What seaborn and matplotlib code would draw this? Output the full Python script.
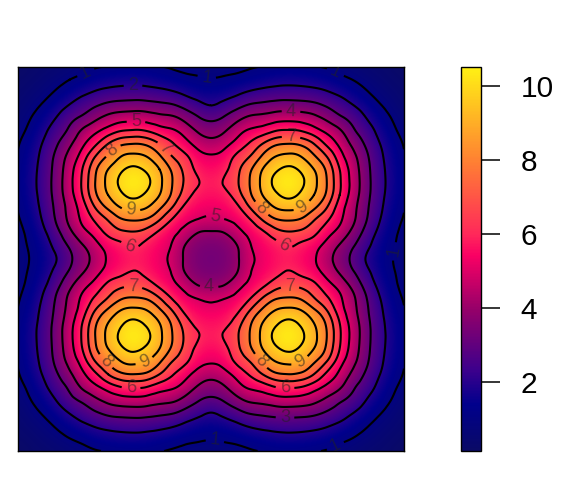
import numpy as np
import matplotlib
matplotlib.use("Agg")
import matplotlib.pyplot as plt
import matplotlib.tri as mtri
from matplotlib.colors import LinearSegmentedColormap
import seaborn as sns

# values, one quarter of the map (top left, edge to centre)
row00 = [.14, .3, .4, .5, .65, .8, .95, 1.05, 1.12, 1.15, 1.12, 1.03, .95, .85, .76, .72]
row01 = [.3, .42, .6, .78, 1.0, 1.2, 1.45, 1.6, 1.68, 1.7, 1.65, 1.5, 1.35, 1.2, 1.1, 1.05]
row02 = [.4, .6, .8, 1.1, 1.45, 1.8, 2.1, 2.3, 2.4, 2.45, 2.4, 2.3, 2.12, 1.82, 1.55, 1.45]
row03 = [.5, .78, 1.1, 1.55, 2.05, 2.5, 2.9, 3.25, 3.4, 3.45, 3.4, 3.25, 3.1, 2.7, 2.3, 2.0]
row04 = [.65, 1.0, 1.45, 2.05, 2.7, 3.2, 3.8, 4.3, 4.6, 4.7, 4.6, 4.35, 4.2, 3.7, 3.1, 2.8]
row05 = [.8, 1.2, 1.8, 2.5, 3.2, 4.15, 4.8, 5.45, 6.0, 6.15, 6.0, 5.5, 5.15, 4.6, 3.9, 3.6]
row06 = [.95, 1.45, 2.1, 2.9, 3.8, 4.8, 5.8, 7.0, 7.8, 8.0, 7.8, 7.0, 6.1, 5.35, 4.65, 4.35]
row07 = [1.05, 1.6, 2.3, 3.25, 4.3, 5.45, 7.0, 8.15, 9.0, 9.25, 9.0, 8.15, 7.0, 6.2, 5.35, 5.1]
row08 = [1.12, 1.68, 2.4, 3.4, 4.6, 6.0, 7.8, 9.0, 9.82, 10.2, 9.82, 9.0, 7.8, 6.7, 5.75, 5.5]
row09 = [1.15, 1.7, 2.45, 3.45, 4.7, 6.15, 8.0, 9.25, 10.2, 10.5, 10.2, 9.25, 8.0, 6.85, 6.05, 5.8]
row10 = [1.12, 1.65, 2.4, 3.4, 4.6, 6.0, 7.8, 9.0, 9.82, 10.2, 9.82, 9.0, 7.8, 6.5, 5.7, 5.6]
row11 = [1.03, 1.5, 2.3, 3.25, 4.35, 5.5, 7.0, 8.15, 9.0, 9.25, 9.0, 8.15, 6.95, 5.75, 5.35, 5.25]
row12 = [.95, 1.35, 2.12, 3.1, 4.2, 5.15, 6.1, 7.0, 7.8, 8.0, 7.8, 6.95, 5.85, 5.2, 4.9, 4.75]
row13 = [.85, 1.2, 1.82, 2.7, 3.7, 4.6, 5.35, 6.2, 6.7, 6.85, 6.5, 5.75, 5.2, 4.6, 3.95, 3.85]
row14 = [.76, 1.1, 1.55, 2.3, 3.1, 3.9, 4.65, 5.35, 5.75, 6.05, 5.7, 5.35, 4.9, 3.95, 3.5, 3.4]
row15 = [.72, 1.05, 1.45, 2.0, 2.8, 3.6, 4.35, 5.1, 5.5, 5.8, 5.6, 5.25, 4.75, 3.85, 3.4, 3.3]

contour_levels = [1, 2, 3, 4, 5, 6, 7, 8, 9, 10]
bar_ticks = [2, 4, 6, 8, 10]

quarter = np.array([row00, row01, row02, row03, row04, row05, row06, row07,
                    row08, row09, row10, row11, row12, row13, row14, row15])
top = np.hstack([quarter, quarter[:, -2::-1]])
field = np.vstack([top, top[-2::-1]])

sns.set_theme(style="white")
plt.rcParams['font.family'] = ['Liberation Sans', 'DejaVu Sans']

colors = [(0, "#0a0a66"), (.12, "#00008c"), (.21, "#3c008c"), (.37, "#960069"),
          (.51, "#fa0064"), (.565, "#ff285a"), (.76, "#ff8232"), (1, "#fff014")]
cmap = LinearSegmentedColormap.from_list("hot_map", colors)
vmin, vmax = field.min(), field.max()

fig = plt.figure(figsize=(5.76, 4.8), dpi=100)
ax = fig.add_axes([18/576, 29/480, 386/576, 384/480])
cax = fig.add_axes([461/576, 29/480, 20/576, 384/480])

sns.heatmap(field, ax=ax, cbar_ax=cax, cmap=cmap, vmin=vmin, vmax=vmax,
            xticklabels=False, yticklabels=False, square=False)

# smooth the cells like the original raster
n = field.shape[0]
ax.imshow(field, extent=(0, n, n, 0), cmap=cmap, vmin=vmin, vmax=vmax,
          interpolation="bicubic", aspect="auto", zorder=1.5)

X, Y = np.meshgrid(np.arange(n) + .5, np.arange(n) + .5)
tri = mtri.Triangulation(X.ravel(), Y.ravel())
tri2, z2 = mtri.UniformTriRefiner(tri).refine_field(field.ravel(), subdiv=3)
cs = ax.tricontour(tri2, z2, levels=contour_levels, colors="black", linewidths=1.5, zorder=2)


def to_data(px, py):
    return (.5 + (px - 18) / 386 * 30, .5 + (py - 67) / 384 * 30)


label_spots = [(87, 75), (207, 75), (334, 75), (392, 251), (215, 440), (334, 443),
               (133, 86), (285, 418), (291, 111), (209, 283), (136, 121), (215, 218),
               (131, 243), (285, 243), (131, 390), (285, 388),
               (165, 148), (291, 138), (133, 288), (290, 288),
               (115, 153), (262, 208), (107, 360), (262, 360),
               (131, 207), (300, 203), (143, 358), (298, 358)]
labels = ax.clabel(cs, fmt="%d", fontsize=13, inline=True, inline_spacing=4,
                   manual=[to_data(*p) for p in label_spots])
for t in labels:
    t.set_color("#222222")
    t.set_alpha(.55)

ax.set_xlim(.5, n - .5)
ax.set_ylim(n - .5, .5)
ax.set_xticks([])
ax.set_yticks([])
for s in ax.spines.values():
    s.set_visible(True)
    s.set_color("black")
    s.set_linewidth(1.0)

cbar = ax.collections[0].colorbar
cbar.set_ticks(bar_ticks)
cbar.ax.tick_params(length=13.5, width=1.1, color="black", pad=15, labelsize=21.5,
                    labelcolor="black", right=True)
cbar.outline.set_visible(True)
cbar.outline.set_edgecolor("black")
cbar.outline.set_linewidth(1.0)

fig.savefig("out.png", dpi=100)
